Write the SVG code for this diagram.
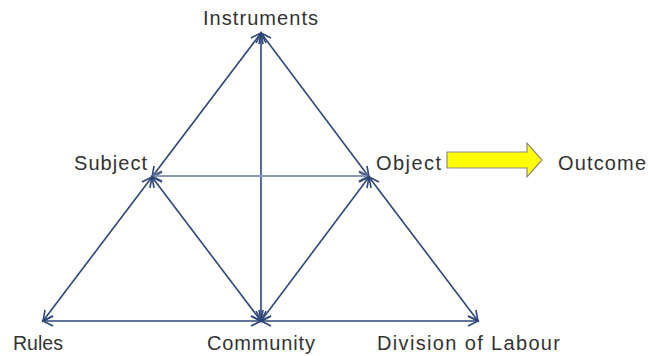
<svg xmlns="http://www.w3.org/2000/svg" width="648" height="356" viewBox="0 0 648 356">
  <defs>
    <marker id="arr" markerUnits="userSpaceOnUse" markerWidth="14" markerHeight="14" refX="11" refY="6" orient="auto-start-reverse" viewBox="0 0 14 12">
      <path d="M1,1 L11,6 L1,11" fill="none" stroke="#2E4677" stroke-width="1.6" stroke-linejoin="miter"/>
    </marker>
    <marker id="arrL" markerUnits="userSpaceOnUse" markerWidth="14" markerHeight="14" refX="11" refY="6" orient="auto-start-reverse" viewBox="0 0 14 12">
      <path d="M1,1 L11,6 L1,11" fill="none" stroke="#5A6E96" stroke-width="1.6"/>
    </marker>
  </defs>
  <style>
    .lbl { font-family: "Liberation Sans", Arial, sans-serif; font-size: 20px; fill: #333333; }
    .ln { stroke: #2E4677; stroke-width: 1.6; fill: none; marker-start: url(#arr); marker-end: url(#arr); }
    .ln2 { stroke: #8A97B5; stroke-width: 2.2; fill: none; marker-start: url(#arrL); marker-end: url(#arrL); }
  </style>
  <rect width="648" height="356" fill="#FFFFFF"/>
  <g id="connectors">
    <line class="ln" x1="261" y1="33" x2="152" y2="177"/>
    <line class="ln" x1="261" y1="33" x2="369" y2="177"/>
    <line class="ln" x1="261" y1="33" x2="261" y2="321"/>
    <line class="ln2" x1="152" y1="176" x2="369" y2="176"/>
    <line class="ln" x1="152" y1="177" x2="43" y2="321"/>
    <line class="ln" x1="152" y1="177" x2="261" y2="321"/>
    <line class="ln" x1="369" y1="177" x2="261" y2="321"/>
    <line class="ln" x1="369" y1="177" x2="478" y2="321"/>
    <line class="ln" x1="43" y1="321" x2="261" y2="321"/>
    <line class="ln" x1="261" y1="321" x2="478" y2="321"/>
    <polygon id="outcome-arrow" points="447,152 527,152 527,143 542,160 527,177 527,168 447,168" fill="#FFFF00" stroke="#8C8C8C" stroke-width="1.2"/>
  </g>
  <g id="instruments"><text class="lbl" x="203" y="25" textLength="115" lengthAdjust="spacing">Instruments</text></g>
  <g id="subject"><text class="lbl" x="74" y="170" textLength="73" lengthAdjust="spacing">Subject</text></g>
  <g id="object"><text class="lbl" x="376" y="170" textLength="65" lengthAdjust="spacing">Object</text></g>
  <g id="outcome"><text class="lbl" x="558" y="170" textLength="88" lengthAdjust="spacing">Outcome</text></g>
  <g id="rules"><text class="lbl" x="13" y="350" textLength="50" lengthAdjust="spacingAndGlyphs">Rules</text></g>
  <g id="community"><text class="lbl" x="207" y="350" textLength="108" lengthAdjust="spacing">Community</text></g>
  <g id="division"><text class="lbl" x="377" y="350" textLength="183" lengthAdjust="spacing">Division of Labour</text></g>
</svg>
